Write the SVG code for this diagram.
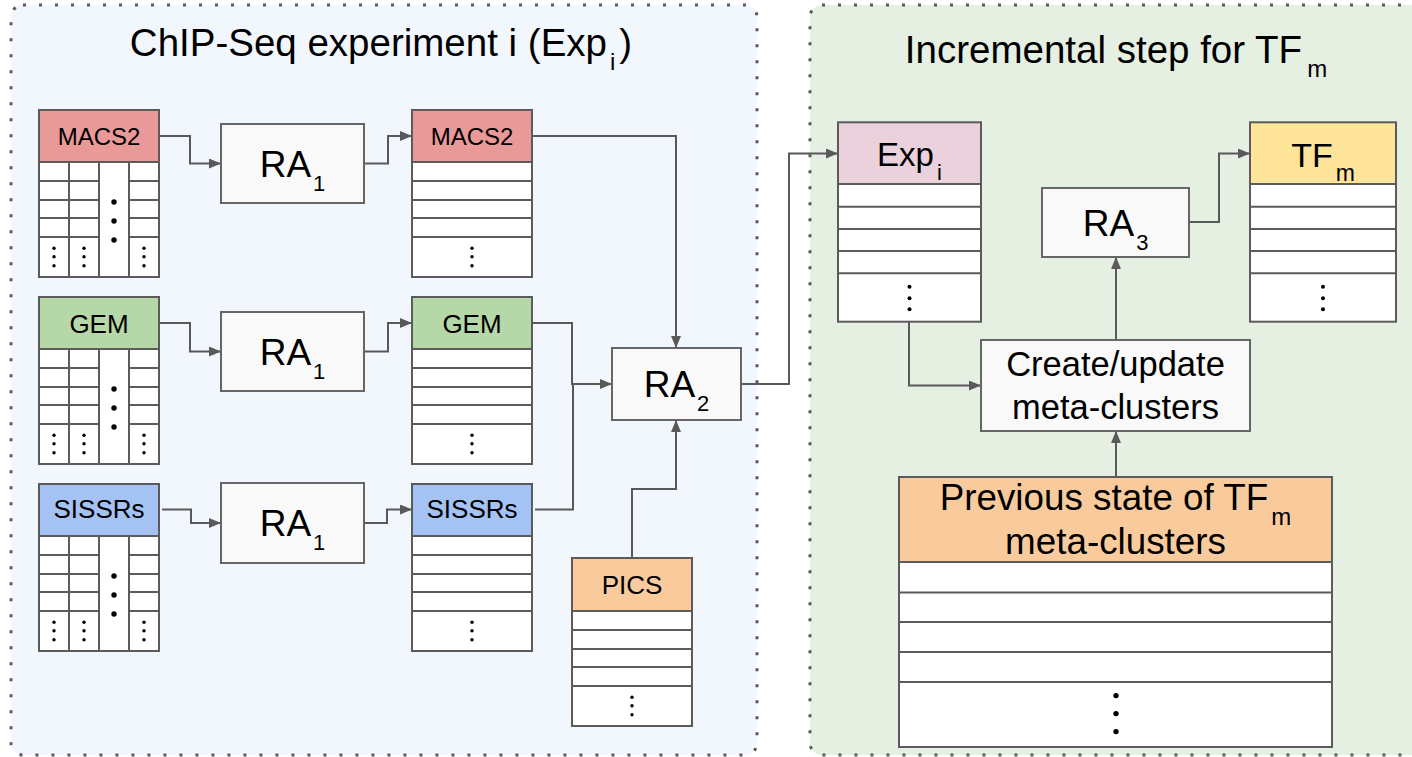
<svg xmlns="http://www.w3.org/2000/svg" xmlns:xlink="http://www.w3.org/1999/xlink" width="1412" height="757" viewBox="0 0 1412 757">
<style>
text{font-family:"Liberation Sans",Arial,sans-serif;fill:#000;text-anchor:middle}
.panel{stroke:#5a5a5a;stroke-width:3;stroke-dasharray:3 13}
.tb{stroke:#5b5b5b;stroke-width:2}
.wh{fill:#fff}
.h-red{fill:#ea9999}.h-green{fill:#b6d7a8}.h-blue{fill:#a4c2f4}.h-orange{fill:#f9cb9c}.h-pink{fill:#ead1dc}.h-yellow{fill:#ffe599}
.ln{stroke:#5b5b5b;stroke-width:2;fill:none}
.ra{fill:#f9f9f9;stroke:#666;stroke-width:2}
.con{stroke:#595959;stroke-width:2;fill:none}
.arr{marker-end:url(#ah)}
.dot{fill:#000}
</style>
<defs>
<marker id="ah" markerUnits="userSpaceOnUse" markerWidth="12" markerHeight="10" refX="12" refY="5" orient="auto">
<path d="M0,0 L12,5 L0,10 z" fill="#595959"/>
</marker>
<g id="body4">
<rect class="tb wh" x="0" y="0" width="120" height="115"/>
<path class="ln" d="M30,0V115M60,0V115M90,0V115M0,19H60M0,38H60M0,56H60M0,75H60M90,19H120M90,38H120M90,56H120M90,75H120"/>
<circle class="dot" cx="75" cy="40" r="2.7"/><circle class="dot" cx="75" cy="59" r="2.7"/><circle class="dot" cx="75" cy="78" r="2.7"/>
<circle class="dot" cx="15" cy="86.3" r="1.7"/><circle class="dot" cx="15" cy="94.7" r="1.7"/><circle class="dot" cx="15" cy="103.7" r="1.7"/>
<circle class="dot" cx="45" cy="86.3" r="1.7"/><circle class="dot" cx="45" cy="94.7" r="1.7"/><circle class="dot" cx="45" cy="103.7" r="1.7"/>
<circle class="dot" cx="105" cy="86.3" r="1.7"/><circle class="dot" cx="105" cy="94.7" r="1.7"/><circle class="dot" cx="105" cy="103.7" r="1.7"/>
</g>
<g id="body1">
<rect class="tb wh" x="0" y="0" width="120" height="115"/>
<path class="ln" d="M0,19H120M0,38H120M0,56H120M0,75H120"/>
<circle class="dot" cx="60" cy="86.3" r="1.7"/><circle class="dot" cx="60" cy="94.7" r="1.7"/><circle class="dot" cx="60" cy="103.7" r="1.7"/>
</g>
</defs>

<rect width="1412" height="757" fill="#fff"/>
<g id="panel-exp">
<rect class="panel" x="11" y="5" width="746" height="750" rx="12" fill="#f2f7fe"/>
<text x="381" y="55.7" font-size="38.5">ChIP-Seq experiment i (Exp<tspan font-size="24" dx="3" dy="14">i</tspan><tspan dx="4" dy="-14">)</tspan></text>
</g>
<g id="panel-inc">
<rect class="panel" x="810" y="5" width="620" height="750" rx="12" fill="#e5efe2"/>
<text x="1116" y="62.7" font-size="38.5">Incremental step for TF<tspan font-size="24" dx="5" dy="14">m</tspan></text>
</g>

<g id="connectors">
<path class="con arr" d="M159,136H190V163.5H221"/>
<path class="con arr" d="M364,163.5H388V136H412"/>
<path class="con arr" d="M159,323H190V351.5H221"/>
<path class="con arr" d="M364,351.5H388V323H412"/>
<path class="con arr" d="M162,509.5H191V523H221"/>
<path class="con arr" d="M364,523H387V509.5H412"/>
<path class="con arr" d="M532,136H676V348"/>
<path class="con arr" d="M532,323H572V384H612"/>
<path class="con" d="M535,509.5H573V384"/>
<path class="con arr" d="M632,558V489H676V420"/>
<path class="con arr" d="M741,384H789V153.5H838"/>
<path class="con arr" d="M909,322V385.5H981"/>
<path class="con arr" d="M1116,477V431"/>
<path class="con arr" d="M1116,340V257"/>
<path class="con arr" d="M1189,222H1219V153.5H1250"/>
</g>

<g id="macs2-in">
<rect class="tb h-red" x="39" y="110" width="120" height="52"/>
<use xlink:href="#body4" x="39" y="162"/>
<text x="99" y="145" font-size="24">MACS2</text>
</g>
<g id="gem-in">
<rect class="tb h-green" x="39" y="297" width="120" height="52"/>
<use xlink:href="#body4" x="39" y="349"/>
<text x="99" y="332.5" font-size="26">GEM</text>
</g>
<g id="sissrs-in">
<rect class="tb h-blue" x="39" y="484" width="120" height="52"/>
<use xlink:href="#body4" x="39" y="536"/>
<text x="99" y="518.3" font-size="26">SISSRs</text>
</g>

<g id="ra1-macs2">
<rect class="ra" x="221" y="124" width="143" height="79"/>
<text x="292.5" y="176.5" font-size="37">RA<tspan font-size="22" dx="2" dy="14">1</tspan></text>
</g>
<g id="ra1-gem">
<rect class="ra" x="221" y="312" width="143" height="79"/>
<text x="292.5" y="364.5" font-size="37">RA<tspan font-size="22" dx="2" dy="14">1</tspan></text>
</g>
<g id="ra1-sissrs">
<rect class="ra" x="221" y="483" width="143" height="80"/>
<text x="292.5" y="536" font-size="37">RA<tspan font-size="22" dx="2" dy="14">1</tspan></text>
</g>

<g id="macs2-out">
<rect class="tb h-red" x="412" y="110" width="120" height="52"/>
<use xlink:href="#body1" x="412" y="162"/>
<text x="472" y="145" font-size="24">MACS2</text>
</g>
<g id="gem-out">
<rect class="tb h-green" x="412" y="297" width="120" height="52"/>
<use xlink:href="#body1" x="412" y="349"/>
<text x="472" y="332.5" font-size="26">GEM</text>
</g>
<g id="sissrs-out">
<rect class="tb h-blue" x="412" y="484" width="120" height="52"/>
<use xlink:href="#body1" x="412" y="536"/>
<text x="472" y="518.3" font-size="26">SISSRs</text>
</g>

<g id="pics">
<rect class="tb h-orange" x="572" y="558" width="120" height="53"/>
<use xlink:href="#body1" x="572" y="611"/>
<text x="632" y="594" font-size="26">PICS</text>
</g>

<g id="ra2">
<rect class="ra" x="612" y="348" width="129" height="72"/>
<text x="676.5" y="397" font-size="37">RA<tspan font-size="22" dx="2" dy="14">2</tspan></text>
</g>

<g id="exp-i">
<rect class="tb h-pink" x="838" y="122.3" width="143" height="61.7"/>
<rect class="tb wh" x="838" y="184" width="143" height="137.7"/>
<path class="ln" d="M838,206.7H981M838,229H981M838,251H981M838,273.3H981"/>
<circle class="dot" cx="909.5" cy="286.7" r="2"/><circle class="dot" cx="909.5" cy="298.3" r="2"/><circle class="dot" cx="909.5" cy="309.3" r="2"/>
<text x="909.5" y="166" font-size="33">Exp<tspan font-size="22" dx="3" dy="14">i</tspan></text>
</g>

<g id="create-update">
<rect class="ra" x="981" y="340" width="269" height="91"/>
<text x="1115.5" y="376" font-size="34.5">Create/update</text>
<text x="1115.5" y="419" font-size="34.5">meta-clusters</text>
</g>

<g id="ra3">
<rect class="ra" x="1042" y="188" width="147" height="69"/>
<text x="1115.7" y="236" font-size="37">RA<tspan font-size="22" dx="2" dy="14">3</tspan></text>
</g>

<g id="tf-m">
<rect class="tb h-yellow" x="1250" y="122.3" width="146" height="61.7"/>
<rect class="tb wh" x="1250" y="184" width="146" height="137.7"/>
<path class="ln" d="M1250,206.7H1396M1250,229H1396M1250,251H1396M1250,273.3H1396"/>
<circle class="dot" cx="1323" cy="286.7" r="2"/><circle class="dot" cx="1323" cy="298.3" r="2"/><circle class="dot" cx="1323" cy="309.3" r="2"/>
<text x="1323" y="167.3" font-size="34">TF<tspan font-size="23" dx="3" dy="13.5">m</tspan></text>
</g>

<g id="previous-state">
<rect class="tb h-orange" x="899" y="477" width="433" height="85"/>
<rect class="tb wh" x="899" y="562" width="433" height="185"/>
<path class="ln" d="M899,592.5H1332M899,622H1332M899,652H1332M899,682H1332"/>
<circle class="dot" cx="1116" cy="695.6" r="2.7"/><circle class="dot" cx="1116" cy="713.6" r="2.7"/><circle class="dot" cx="1116" cy="731.6" r="2.7"/>
<text x="1115.5" y="510" font-size="36.8">Previous state of TF<tspan font-size="24" dx="3" dy="15">m</tspan></text>
<text x="1115.5" y="554" font-size="36.8">meta-clusters</text>
</g>
</svg>
